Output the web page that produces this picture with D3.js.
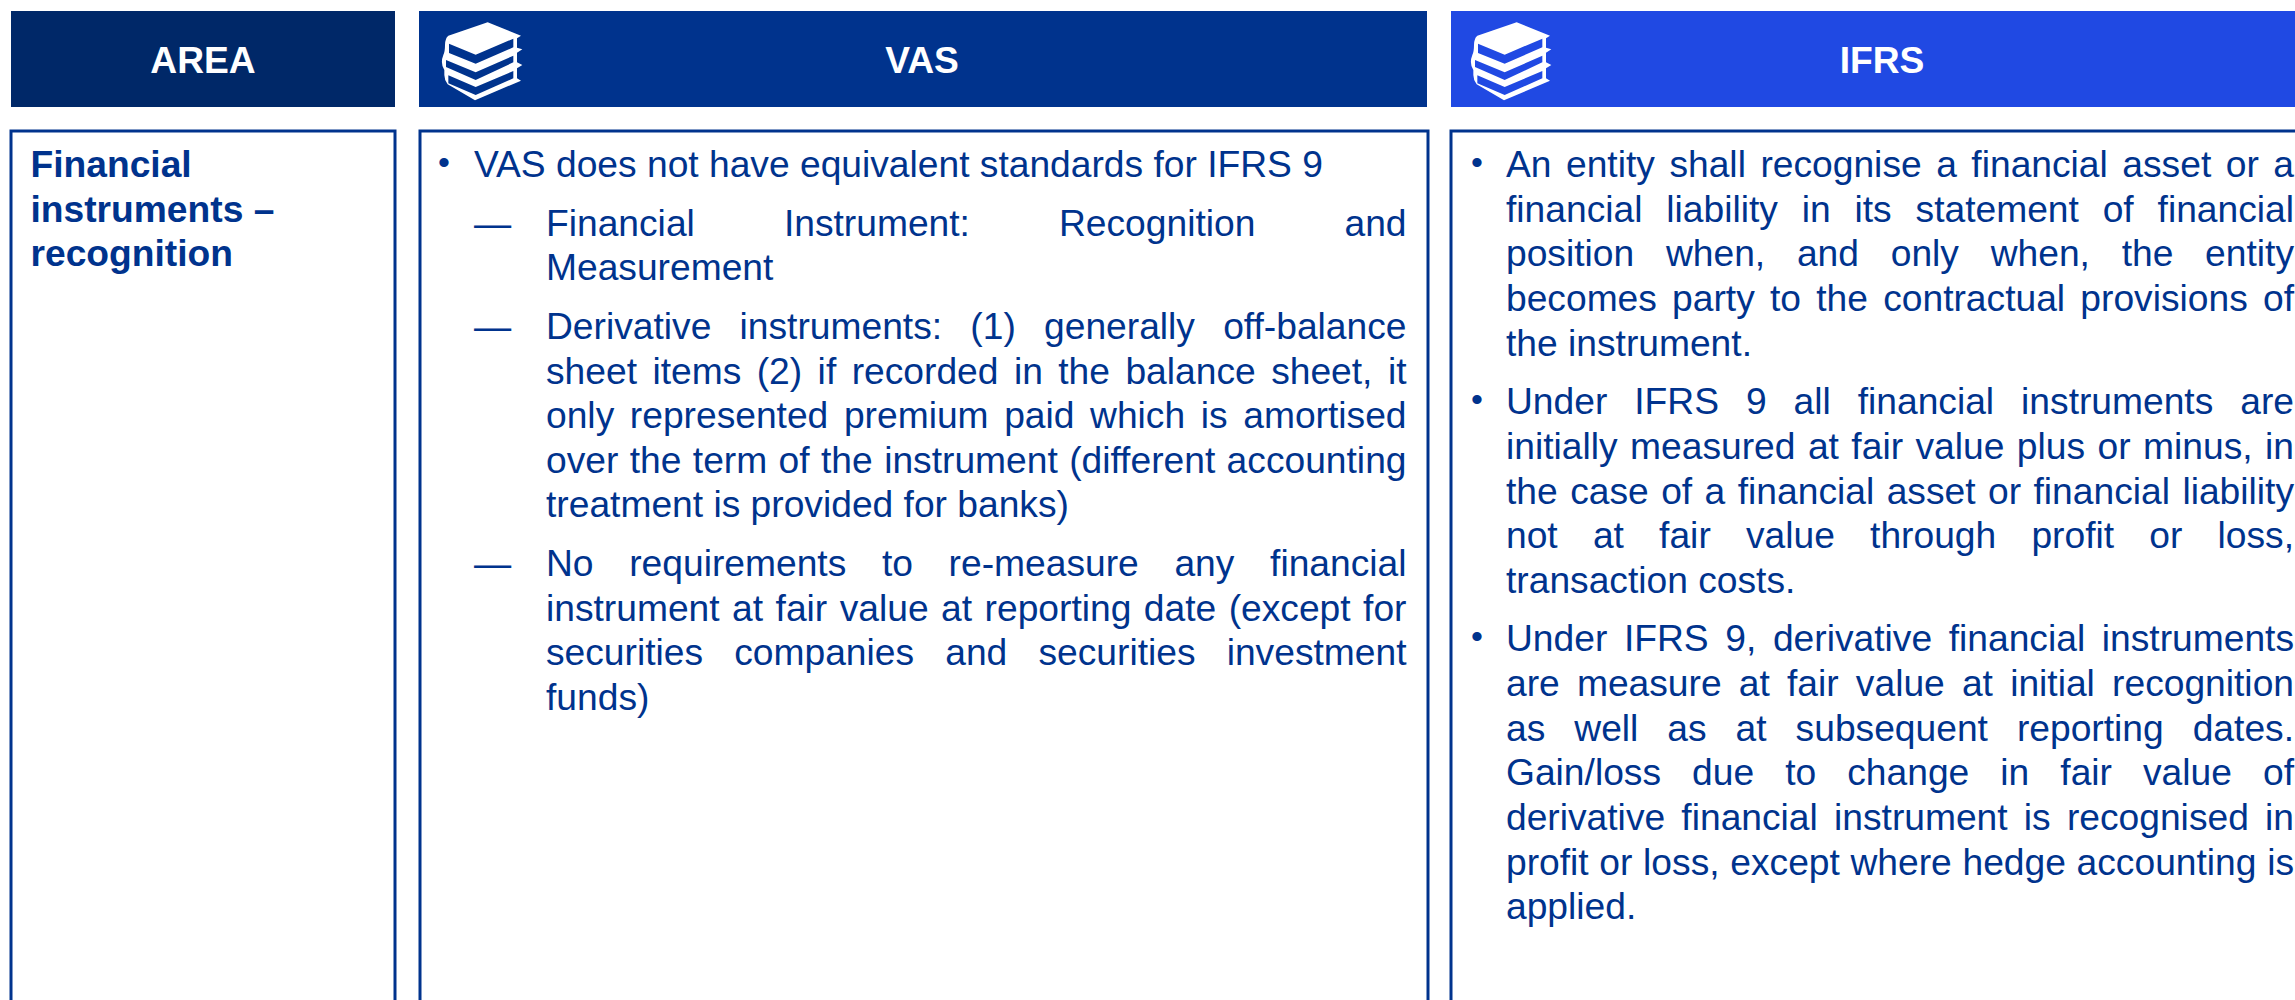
<!DOCTYPE html>
<html>
<head>
<meta charset="utf-8">
<script src="https://cdn.jsdelivr.net/npm/d3@7"></script>
<style>
html,body{margin:0;padding:0;background:#fff;overflow:hidden}
svg{display:block}
text{font-family:"Liberation Sans",Arial,sans-serif}
</style>
</head>
<body>
<svg id="c" width="2295" height="1000"></svg>
<script>
const columns = ["AREA", "VAS", "IFRS"];
const columnFill = ["#002868", "#00338D", "#2049E3"];
const columnLeft = [11, 419, 1451];
const columnRight = [395, 1427, 2310];
const titleCentre = [203, 922, 1882];
const boxLeft = [11, 420, 1451];
const boxRight = [395, 1428, 2310];
const iconColumns = [1, 2];
const iconLeft = [435, 1464];

const areaLines = ["Financial", "instruments –", "recognition"];
const vasParagraphs = [
  {mark: "•", lines: ["VAS does not have equivalent standards for IFRS 9"]},
  {mark: "—", lines: ["Financial Instrument: Recognition and", "Measurement"]},
  {mark: "—", lines: ["Derivative instruments: (1) generally off-balance",
    "sheet items (2) if recorded in the balance sheet, it",
    "only represented premium paid which is amortised",
    "over the term of the instrument (different accounting",
    "treatment is provided for banks)"]},
  {mark: "—", lines: ["No requirements to re-measure any financial",
    "instrument at fair value at reporting date (except for",
    "securities companies and securities investment",
    "funds)"]}
];
const ifrsParagraphs = [
  {mark: "•", lines: ["An entity shall recognise a financial asset or a",
    "financial liability in its statement of financial",
    "position when, and only when, the entity",
    "becomes party to the contractual provisions of",
    "the instrument."]},
  {mark: "•", lines: ["Under IFRS 9 all financial instruments are",
    "initially measured at fair value plus or minus, in",
    "the case of a financial asset or financial liability",
    "not at fair value through profit or loss,",
    "transaction costs."]},
  {mark: "•", lines: ["Under IFRS 9, derivative financial instruments",
    "are measure at fair value at initial recognition",
    "as well as at subsequent reporting dates.",
    "Gain/loss due to change in fair value of",
    "derivative financial instrument is recognised in",
    "profit or loss, except where hedge accounting is",
    "applied."]}
];

const ink = "#00338D";
const fontSize = 37.2;
const markSize = 34;
const linePitch = 44.65;
const paraPitch = 58.6;
const firstBaseline = 177;

const svg = d3.select("#c");

// header bands
const head = svg.selectAll("g.head").data(columns).join("g").attr("class", "head");
head.append("rect")
  .attr("x", (d, i) => columnLeft[i]).attr("y", 11)
  .attr("width", (d, i) => columnRight[i] - columnLeft[i]).attr("height", 96)
  .attr("fill", (d, i) => columnFill[i]);
head.append("text")
  .attr("x", (d, i) => titleCentre[i]).attr("y", 72.5)
  .attr("text-anchor", "middle").attr("font-weight", 700)
  .attr("font-size", fontSize).attr("fill", "#fff").text(d => d);

// body boxes
svg.selectAll("rect.box").data(columns).join("rect").attr("class", "box")
  .attr("x", (d, i) => boxLeft[i]).attr("y", 131)
  .attr("width", (d, i) => boxRight[i] - boxLeft[i]).attr("height", 900)
  .attr("fill", "none").attr("stroke", ink).attr("stroke-width", 3);

// book icons
const silhouette = "M158,22 L258,62 L246,70 L246,98 L262,103 L246,113 L246,142 L262,150 L246,160 L246,190 L258,197 L120,256 L38,208 Q28,195 28,180 L28,165 Q15,145 25,120 Q30,110 30,90 Q30,70 40,62 Z";
const bands = [
  "M42,86 L122,119 L235,71 L235,97 L122,146 L42,114 Z",
  "M33,135 L122,172 L235,122 L235,142 L122,195 L33,156 Z",
  "M40,181 L122,216 L235,168 L235,190 L122,240 L40,205 Z"
];
iconColumns.forEach((c, k) => {
  const g = svg.append("g").attr("transform", `translate(${iconLeft[k]},15) scale(${1/3})`);
  g.append("path").attr("d", silhouette).attr("fill", "#fff");
  g.selectAll("path.band").data(bands).join("path").attr("class", "band")
    .attr("d", d => d).attr("fill", columnFill[c]);
});

// area label
svg.selectAll("text.area").data(areaLines).join("text").attr("class", "area")
  .attr("x", 30.5).attr("y", (d, i) => firstBaseline + i * linePitch)
  .attr("font-size", fontSize).attr("font-weight", 700).attr("fill", ink).text(d => d);

function drawColumn(paragraphs, opts) {
  let y = firstBaseline;
  paragraphs.forEach((p, pi) => {
    if (pi > 0) y += paraPitch - linePitch;
    const isDash = p.mark === "—";
    const textX = isDash ? opts.subX : opts.textX;
    svg.append("text")
      .attr("x", isDash ? opts.textX : opts.bulletX).attr("y", isDash ? y : y - 3)
      .attr("font-size", isDash ? fontSize : markSize).attr("fill", ink).text(p.mark);
    p.lines.forEach((line, li) => {
      const t = svg.append("text").attr("x", textX).attr("y", y)
        .attr("font-size", fontSize).attr("fill", ink).text(line);
      const words = line.split(" ").length;
      if (li < p.lines.length - 1 && words > 1) {
        const natural = t.node().getComputedTextLength();
        t.attr("word-spacing", (opts.right - textX - natural) / (words - 1));
      }
      y += linePitch;
    });
  });
}
drawColumn(vasParagraphs, {bulletX: 438, textX: 474, subX: 546, right: 1406.5});
drawColumn(ifrsParagraphs, {bulletX: 1471, textX: 1506, subX: 1506, right: 2294});
</script>
</body>
</html>
